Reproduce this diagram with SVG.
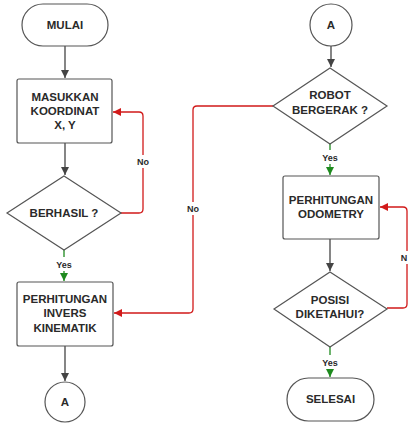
<svg xmlns="http://www.w3.org/2000/svg" width="409" height="424" viewBox="0 0 409 424">
<defs>
<marker id="ag" viewBox="0 0 10 10" refX="10" refY="5" markerWidth="8" markerHeight="8" markerUnits="userSpaceOnUse" orient="auto"><path d="M0,0 L10,5 L0,10 z" fill="#444"/></marker>
<marker id="ar" viewBox="0 0 10 10" refX="10" refY="5" markerWidth="8" markerHeight="8" markerUnits="userSpaceOnUse" orient="auto"><path d="M0,0 L10,5 L0,10 z" fill="#d11a1a"/></marker>
<marker id="agr" viewBox="0 0 10 10" refX="10" refY="5" markerWidth="8" markerHeight="8" markerUnits="userSpaceOnUse" orient="auto"><path d="M0,0 L10,5 L0,10 z" fill="#1e8a1e"/></marker>
</defs>
<style>
.n{fill:#fff;stroke:#555;stroke-width:1.2}
.t{font-family:"Liberation Sans",Arial,sans-serif;font-weight:bold;font-size:11.5px;fill:#2a2a2a;text-anchor:middle}
.l{font-family:"Liberation Sans",Arial,sans-serif;font-weight:bold;font-size:9px;fill:#2a2a2a;text-anchor:middle}
.c{fill:none;stroke:#444;stroke-width:1.3}
.r{fill:none;stroke:#d11a1a;stroke-width:1.3}
.g{fill:none;stroke:#1e8a1e;stroke-width:1.3}
</style>
<rect width="409" height="424" fill="#fff"/>
<g id="connectors">
<path class="c" d="M65,46 V78" marker-end="url(#ag)"/>
<path class="c" d="M65,143 V175" marker-end="url(#ag)"/>
<path class="g" d="M64,250 V257"/>
<path class="g" d="M64,271 V281" marker-end="url(#agr)"/>
<path class="r" d="M120,213 H139 Q143,213 143,209 V116 Q143,112 139,112 H113" marker-end="url(#ar)"/>
<path class="c" d="M65,346 V381" marker-end="url(#ag)"/>
<path class="c" d="M331,46 V67" marker-end="url(#ag)"/>
<path class="r" d="M273,106 H197 Q193,106 193,110 V309 Q193,313 189,313 H114" marker-end="url(#ar)"/>
<path class="g" d="M330,143 V150"/>
<path class="g" d="M330,164 V175" marker-end="url(#agr)"/>
<path class="c" d="M330,239 V271" marker-end="url(#ag)"/>
<path class="r" d="M387,308 H403 Q407,308 407,304 V211 Q407,207 403,207 H380" marker-end="url(#ar)"/>
<path class="g" d="M330,347 V355"/>
<path class="g" d="M330,369 V377" marker-end="url(#agr)"/>
<rect x="134" y="155" width="18" height="13" fill="#fff"/>
<text class="l" x="143" y="165">No</text>
<rect x="184" y="202" width="18" height="13" fill="#fff"/>
<text class="l" x="193" y="212">No</text>
<rect x="400" y="251" width="9" height="13" fill="#fff"/>
<text class="l" x="404" y="261">N</text>
<text class="l" x="64" y="268">Yes</text>
<text class="l" x="330" y="161">Yes</text>
<text class="l" x="330" y="366">Yes</text>
</g>
<g id="mulai">
<rect class="n" x="22" y="4" width="86" height="42" rx="21"/>
<text class="t" x="65" y="29">MULAI</text>
</g>
<g id="masukkan">
<rect class="n" x="17" y="79" width="95" height="64" rx="2"/>
<text class="t" x="65" y="101">MASUKKAN</text>
<text class="t" x="65" y="115">KOORDINAT</text>
<text class="t" x="65" y="129">X, Y</text>
</g>
<g id="berhasil">
<path class="n" d="M64,176 L121,213 L64,250 L7,213 Z"/>
<text class="t" x="64" y="217">BERHASIL ?</text>
</g>
<g id="invers">
<rect class="n" x="17" y="282" width="96" height="64" rx="2"/>
<text class="t" x="65" y="303">PERHITUNGAN</text>
<text class="t" x="65" y="317">INVERS</text>
<text class="t" x="65" y="332">KINEMATIK</text>
</g>
<g id="a1">
<circle class="n" cx="65" cy="402" r="20"/>
<text class="t" x="65" y="406">A</text>
</g>
<g id="a2">
<circle class="n" cx="331" cy="25" r="21"/>
<text class="t" x="331" y="29">A</text>
</g>
<g id="robot">
<path class="n" d="M330,68 L387,106 L330,144 L273,106 Z"/>
<text class="t" x="330" y="99">ROBOT</text>
<text class="t" x="330" y="114">BERGERAK ?</text>
</g>
<g id="odometry">
<rect class="n" x="283" y="176" width="96" height="63" rx="2"/>
<text class="t" x="331" y="204">PERHITUNGAN</text>
<text class="t" x="331" y="218">ODOMETRY</text>
</g>
<g id="posisi">
<path class="n" d="M330,272 L387,309 L330,347 L274,309 Z"/>
<text class="t" x="330" y="304">POSISI</text>
<text class="t" x="330" y="318">DIKETAHUI?</text>
</g>
<g id="selesai">
<rect class="n" x="287" y="378" width="87" height="43" rx="21.5"/>
<text class="t" x="330.5" y="403">SELESAI</text>
</g>
</svg>
